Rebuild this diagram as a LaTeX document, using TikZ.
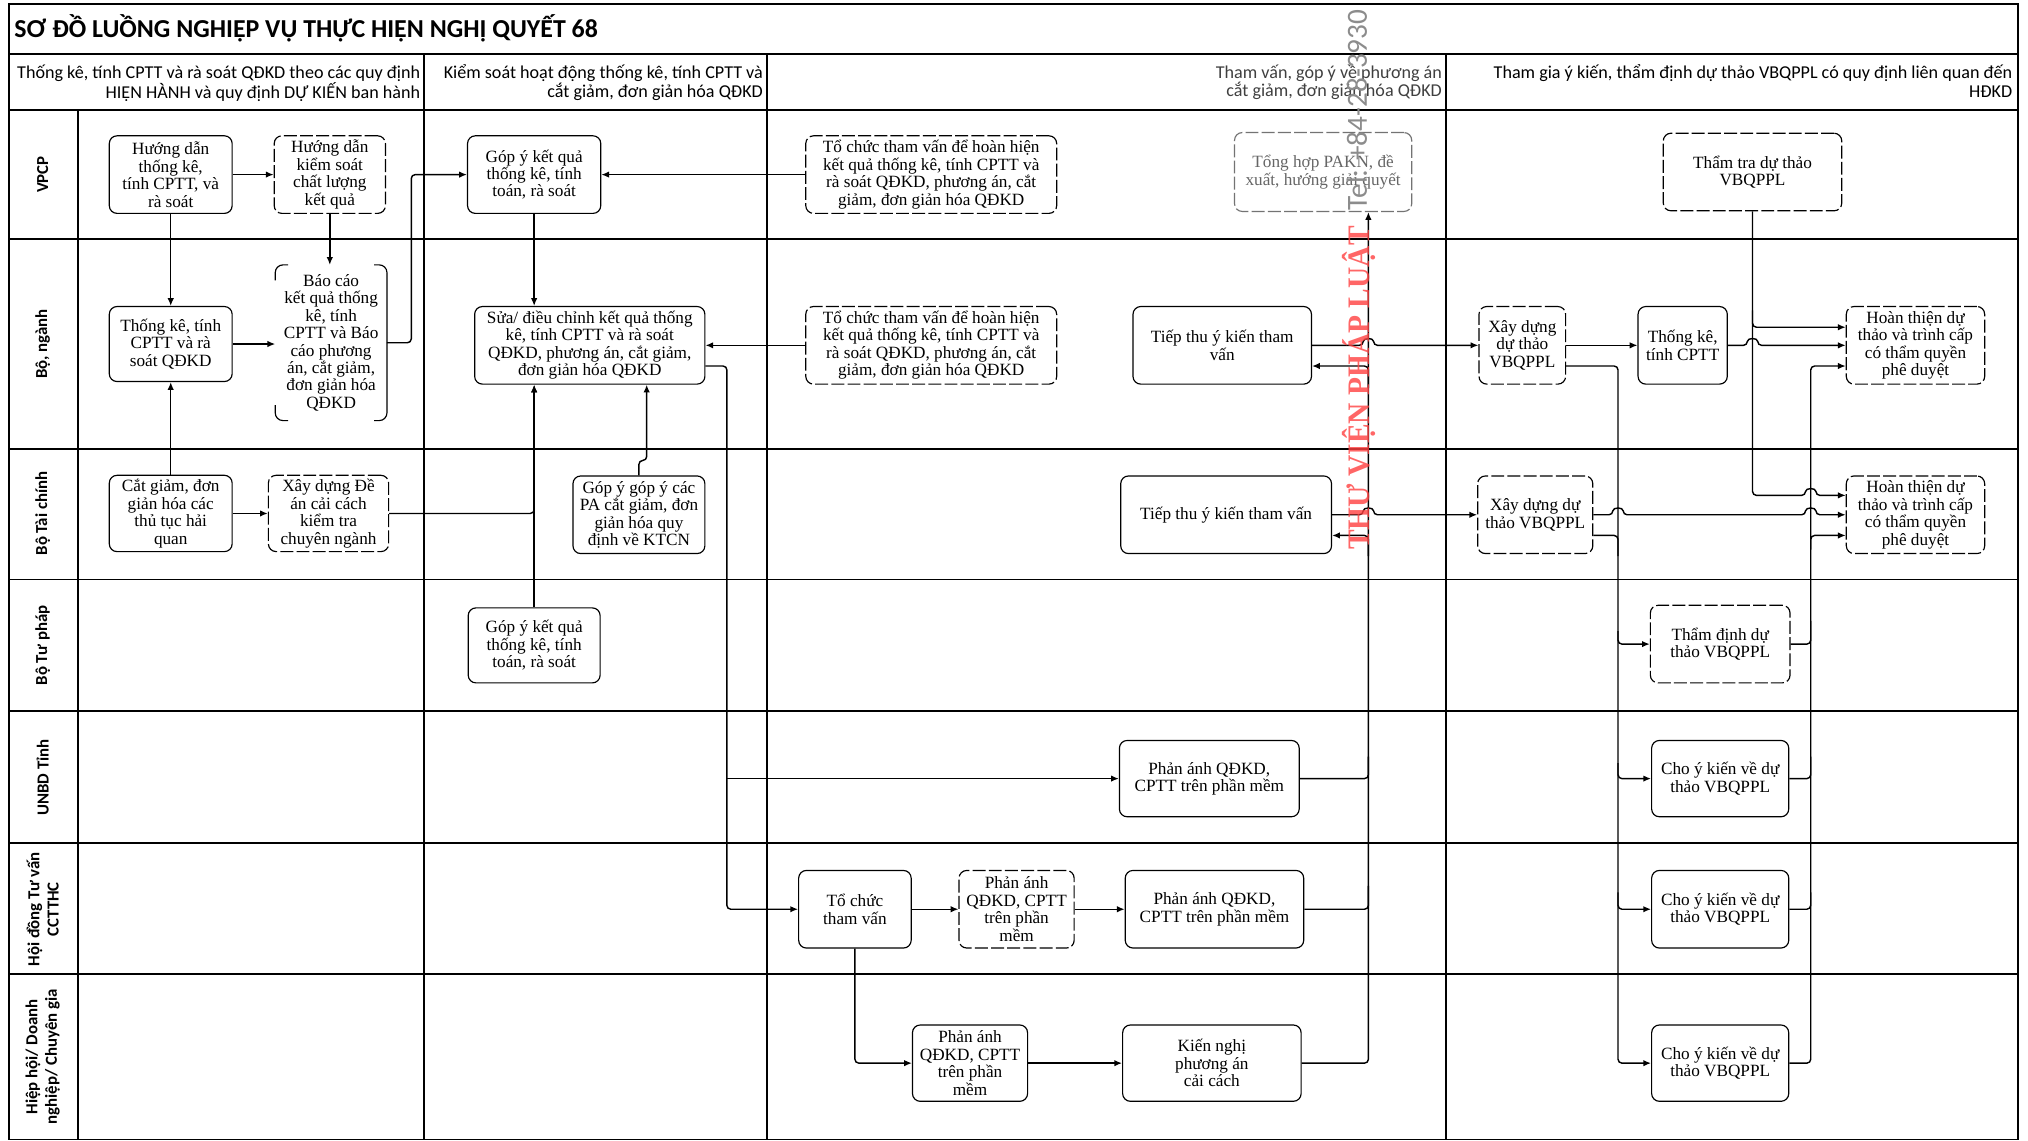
\documentclass[tikz,border=0pt]{standalone}
\usepackage{fontspec}
\usepackage{graphicx}
\setmainfont{Liberation Serif}
\newfontfamily\calfont{Carlito}
\usetikzlibrary{arrows.meta}
\newcommand\boxfnt{\fontsize{13.3}{13.5}\selectfont}
\newcommand\hdrfnt{\calfont\fontsize{14}{14}\selectfont}
\newcommand\lanefnt{\calfont\bfseries\fontsize{13}{15}\selectfont}
\begin{document}
\begin{tikzpicture}[x=1pt,y=-1pt,
  grid/.style={line width=1.4pt},
  box/.style={draw, line width=0.9pt, rounded corners=6pt, align=center, inner sep=1pt, font=\boxfnt},
  dbox/.style={box, dash pattern=on 10pt off 2.5pt},
  conn/.style={line width=1.1pt, rounded corners=3pt},
  arr/.style={conn, -{Latex[length=6pt,width=5pt]}},
  lane/.style={rotate=90, font=\lanefnt, align=center, inner sep=0},
  hdr/.style={font=\hdrfnt, align=right, inner sep=0, anchor=north east}]
\useasboundingbox (0,0) rectangle (1568,882);
\fill[white] (0,0) rectangle (1568,882);

% grid
\draw[grid] (7,3) rectangle (1560,881);
\draw[grid] (7,42) -- (1560,42);
\draw[grid] (7,85) -- (1560,85);
\foreach \y in {185,347,448,550,652,753} \draw[grid] (7,\y) -- (1560,\y);
\draw[grid] (60,85) -- (60,881);
\foreach \x in {328,593,1118} \draw[grid] (\x,42) -- (\x,881);

% title and headers
\node[anchor=west, font=\calfont\bfseries\fontsize{20}{22}\selectfont, inner sep=0] (title) at (11,22) {SƠ ĐỒ LUỒNG NGHIỆP VỤ THỰC HIỆN NGHỊ QUYẾT 68};
\node[hdr] (h1) at (325,50) {Thống kê, tính CPTT và rà soát QĐKD theo các quy định\\HIỆN HÀNH và quy định DỰ KIẾN ban hành};
\node[hdr] (h2) at (590,50) {Kiểm soát hoạt động thống kê, tính CPTT và\\cắt giảm, đơn giản hóa QĐKD};
\node[hdr, text=black!75] (h3) at (1115,50) {Tham vấn, góp ý về phương án\\cắt giảm, đơn giản hóa QĐKD};
\node[hdr] (h4) at (1556,50) {Tham gia ý kiến, thẩm định dự thảo VBQPPL có quy định liên quan đến\\HĐKD};

% lane labels
\node[lane] (l1) at (33,135) {VPCP};
\node[lane] (l2) at (33,266) {Bộ, ngành};
\node[lane] (l3) at (33,397) {Bộ Tài chính};
\node[lane] (l4) at (33,499) {Bộ Tư pháp};
\node[lane] (l5) at (33,601) {UNBD Tỉnh};
\node[lane] (l6) at (33,703) {Hội đồng Tư vấn\\CCTTHC};
\node[lane] (l7) at (33,817) {Hiệp hội/ Doanh\\nghiệp/ Chuyên gia};

% section 1
\node[box, minimum width=95, minimum height=60] (A1) at (132,135) {Hướng dẫn\\thống kê,\\tính CPTT, và\\rà soát};
\node[dbox, minimum width=86, minimum height=60] (A2) at (255,135) {Hướng dẫn\\kiểm soát\\chất lượng\\kết quả};
\node[box, minimum width=95, minimum height=58] (A3) at (132,266) {Thống kê, tính\\CPTT và rà\\soát QĐKD};
\node[minimum width=86, minimum height=120, align=center, inner sep=1pt, font=\boxfnt] (A4) at (256,265) {Báo cáo\\kết quả thống\\kê, tính\\CPTT và Báo\\cáo phương\\án, cắt giảm,\\đơn giản hóa\\QĐKD};
\draw[line width=0.9pt, rounded corners=6pt] ([xshift=-10pt]A4.north east) -- (A4.north east) -- (A4.south east) -- ([xshift=-10pt]A4.south east);
\draw[line width=0.9pt, rounded corners=6pt] ([xshift=10pt]A4.north west) -- (A4.north west) -- ([yshift=-12pt]A4.north west);
\draw[line width=0.9pt, rounded corners=6pt] ([yshift=12pt]A4.south west) -- (A4.south west) -- ([xshift=10pt]A4.south west);
\node[box, minimum width=95, minimum height=59] (A5) at (132,397) {Cắt giảm, đơn\\giản hóa các\\thủ tục hải\\quan};
\node[dbox, minimum width=93, minimum height=59] (A6) at (254,397) {Xây dựng Đề\\án cải cách\\kiểm tra\\chuyên ngành};

% section 2
\node[box, minimum width=103, minimum height=60] (B1) at (413,135) {Góp ý kết quả\\thống kê, tính\\toán, rà soát};
\node[box, minimum width=178, minimum height=60] (B2) at (456,267) {Sửa/ điều chỉnh kết quả thống\\kê, tính CPTT và rà soát\\QĐKD, phương án, cắt giảm,\\đơn giản hóa QĐKD};
\node[box, minimum width=102, minimum height=60] (B3) at (494,398) {Góp ý góp ý các\\PA cắt giảm, đơn\\giản hóa quy\\định về KTCN};
\node[box, minimum width=102, minimum height=58] (B4) at (413,499) {Góp ý kết quả\\thống kê, tính\\toán, rà soát};

% section 3
\node[dbox, minimum width=194, minimum height=60] (C1) at (720,135) {Tổ chức tham vấn để hoàn hiện\\kết quả thống kê, tính CPTT và\\rà soát QĐKD, phương án, cắt\\giảm, đơn giản hóa QĐKD};
\node[dbox, draw=black!55, text=black!60, minimum width=137, minimum height=61] (C2) at (1023,133) {Tổng hợp PAKN, đề\\xuất, hướng giải quyết};
\node[dbox, minimum width=194, minimum height=60] (C3) at (720,267) {Tổ chức tham vấn để hoàn hiện\\kết quả thống kê, tính CPTT và\\rà soát QĐKD, phương án, cắt\\giảm, đơn giản hóa QĐKD};
\node[box, minimum width=138, minimum height=60] (C4) at (945,267) {Tiếp thu ý kiến tham\\vấn};
\node[box, minimum width=163, minimum height=60] (C5) at (948,398) {Tiếp thu ý kiến tham vấn};
\node[box, minimum width=139, minimum height=59] (C6) at (935,602) {Phản ánh QĐKD,\\CPTT trên phần mềm};
\node[box, minimum width=87, minimum height=60] (C7) at (661,703) {Tổ chức\\tham vấn};
\node[dbox, minimum width=89, minimum height=60] (C8) at (786,703) {Phản ánh\\QĐKD, CPTT\\trên phần\\mềm};
\node[box, minimum width=138, minimum height=60] (C9) at (939,703) {Phản ánh QĐKD,\\CPTT trên phần mềm};
\node[box, minimum width=89, minimum height=59] (C10) at (750,822) {Phản ánh\\QĐKD, CPTT\\trên phần\\mềm};
\node[box, minimum width=138, minimum height=59] (C11) at (937,822) {Kiến nghị\\phương án\\cải cách};

% section 4
\node[dbox, minimum width=138, minimum height=60] (D1) at (1355,133) {Thẩm tra dự thảo\\VBQPPL};
\node[dbox, minimum width=67, minimum height=60] (D2) at (1177,267) {Xây dựng\\dự thảo\\VBQPPL};
\node[box, minimum width=69, minimum height=60] (D3) at (1301,267) {Thống kê,\\tính CPTT};
\node[dbox, minimum width=107, minimum height=60] (D4) at (1481,267) {Hoàn thiện dự\\thảo và trình cấp\\có thẩm quyền\\phê duyệt};
\node[dbox, minimum width=89, minimum height=60] (D5) at (1187,398) {Xây dựng dự\\thảo VBQPPL};
\node[dbox, minimum width=107, minimum height=60] (D6) at (1481,398) {Hoàn thiện dự\\thảo và trình cấp\\có thẩm quyền\\phê duyệt};
\node[dbox, minimum width=108, minimum height=60] (D7) at (1330,498) {Thẩm định dự\\thảo VBQPPL};
\node[box, minimum width=106, minimum height=59] (D8) at (1330,602) {Cho ý kiến về dự\\thảo VBQPPL};
\node[box, minimum width=106, minimum height=60] (D9) at (1330,703) {Cho ý kiến về dự\\thảo VBQPPL};
\node[box, minimum width=106, minimum height=59] (D10) at (1330,822) {Cho ý kiến về dự\\thảo VBQPPL};

% connectors section 1-2
\draw[arr] (A1.east) -- (A2.west);
\draw[arr] (A1.south) -- (A3.north);
\draw[arr] (A2.south) -- (A2.south |- A4.north);
\draw[arr] (A3.east) -- (A3.east -| A4.west);
\draw[arr] (A5.north) -- (A3.south);
\draw[arr] (A5.east) -- (A6.west);
\draw[arr] (A4.east) -- (318,265) -- (318,135) -- (B1.west);
\draw[arr] (B1.south) -- (B1.south |- B2.north);
\draw[arr] (C1.west) -- (C1.west -| B1.east);
\draw[arr] (C3.west) -- (C3.west -| B2.east);
\draw[arr] (A6.east) -| (B1.south |- B2.south);
\draw[arr] (B4.north) -- (B4.north |- B2.south);
\draw[arr] (B3.north) -- (494,356) -- (500,356) -- (500,0 |- B2.south);
\coordinate (j1) at (562,602);
\draw[arr] (B2.east |- 0,283) -- (562,283) -- (562,703) -- (C7.west);
\draw[arr] (j1) -- (C6.west);

% section 3
\draw[arr] (C7.east) -- (C8.west);
\draw[arr] (C8.east) -- (C9.west);
\draw[arr] (C7.south) |- (C10.west);
\draw[arr] (C10.east) -- (C11.west);
\draw[arr] (C11.east) -| (1058,0 |- C2.south);
\draw[conn] (C6.east) -| (1058,585);
\draw[conn] (C9.east) -| (1058,685);
\draw[arr] (1058,300) |- (C4.east |- 0,283);
\draw[arr] (1058,430) |- (C5.east |- 0,414);
\draw[arr] (C4.east) -- (1054,267) .. controls (1054,261) and (1062,261) .. (1062,267) -- (D2.west);
\draw[arr] (C5.east) -- (1054,398) .. controls (1054,392) and (1062,392) .. (1062,398) -- (D5.west);

% section 4
\draw[arr] (D2.east) -- (D3.west);
\draw[arr] (D3.east) -- (1351,267) .. controls (1351,261) and (1359,261) .. (1359,267) -- (D4.west);
\draw[arr] (D1.south) -- (1355,383) -- (1396,383) .. controls (1396,377) and (1404,377) .. (1404,383) -- (D6.west |- 0,383);
\draw[arr] (1355,240) |- (D4.west |- 0,253);
\draw[arr] (D2.east |- 0,283) -- (1251,283) |- (D10.west);
\draw[arr] (1251,488) |- (D7.west);
\draw[arr] (1251,590) |- (D8.west);
\draw[arr] (1251,690) |- (D9.west);
\draw[conn] (D5.east |- 0,414) -| (1251,430);
\draw[arr] (D5.east) -- (1247,398) .. controls (1247,392) and (1255,392) .. (1255,398) -- (1396,398) .. controls (1396,392) and (1404,392) .. (1404,398) -- (D6.west);
\draw[arr] (D10.east) -| (1400,283) -- (D4.west |- 0,283);
\draw[conn] (D7.east) -| (1400,480);
\draw[conn] (D8.east) -| (1400,585);
\draw[conn] (D9.east) -| (1400,690);
\draw[arr] (1400,425) |- (D6.west |- 0,414);

% watermark
\node[rotate=90, text=red!75, opacity=0.8, inner sep=0] (wm) at (1051,300) {\resizebox{250pt}{21pt}{\bfseries THƯ VIỆN PHÁP LUẬT}};
\node[rotate=90, text=black!45, inner sep=0] (tel) at (1049,85) {\resizebox{155pt}{!}{\calfont Tel: +84-28-3930}};
\end{tikzpicture}
\end{document}
